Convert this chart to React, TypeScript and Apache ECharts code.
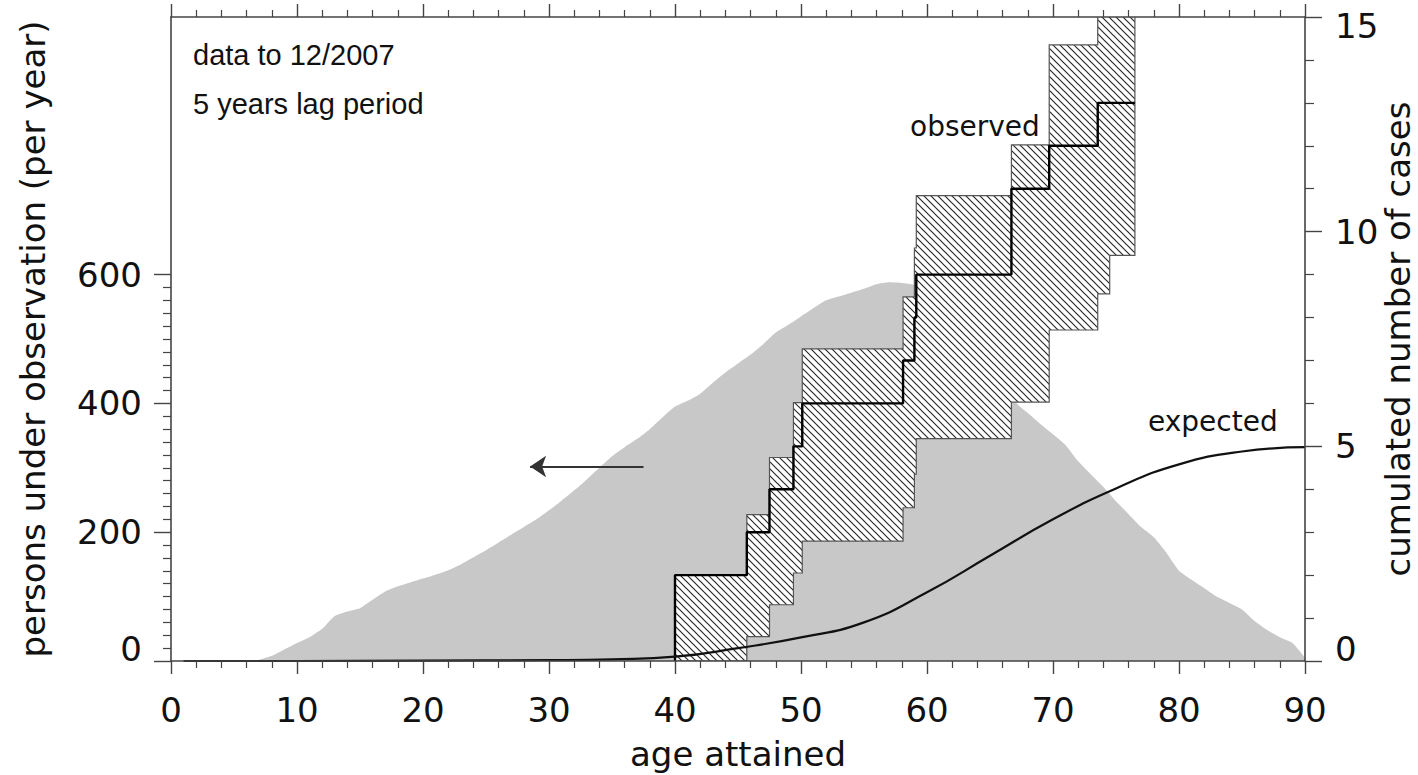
import React, { useEffect, useRef } from "react";
import * as echarts from "echarts";

// ---- data ----
const ages = [
  0, 1, 2, 3, 4, 5, 6, 7, 8, 9, 10, 11, 12, 13, 14, 15, 16, 17, 18, 19, 20,
  21, 22, 23, 24, 25, 26, 27, 28, 29, 30, 31, 32, 33, 34, 35, 36, 37, 38, 39, 40,
  41, 42, 43, 44, 45, 46, 47, 48, 49, 50, 51, 52, 53, 54, 55, 56, 57, 58, 59, 60,
  61, 62, 63, 64, 65, 66, 67, 68, 69, 70, 71, 72, 73, 74, 75, 76, 77, 78, 79, 80,
  81, 82, 83, 84, 85, 86, 87, 88, 89, 90,
];
const personsUnderObservation = [
  0, 0, 0, 0, 0, 0, 0, 2, 8, 18, 28,
  37, 50, 70, 77, 82, 95, 108, 116, 122, 128,
  134, 141, 150, 161, 172, 184, 196, 208, 220, 234,
  249, 265, 282, 300, 318, 332, 345, 360, 378, 395,
  404, 415, 432, 448, 462, 476, 492, 510, 522, 535,
  548, 560, 566, 572, 578, 585, 588, 587, 584, 575,
  560, 540, 515, 490, 460, 430, 402, 385, 368, 352,
  335, 310, 290, 270, 248, 228, 208, 192, 168, 140,
  126, 113, 100, 90, 80, 62, 48, 37, 28, 5,
];

const expectedAges = [1, 10, 20, 30, 35, 40, 45, 50, 55, 60, 65, 70, 75, 80, 85, 90];
const expectedCases = [0, 0, 0.01, 0.02, 0.04, 0.1, 0.3, 0.55, 0.9, 1.6, 2.45, 3.3, 4.02, 4.58, 4.88, 4.98];

const stepAges = [40, 45.7, 47.5, 49.4, 50.1, 58.1, 59.0, 59.15, 66.7, 69.7, 73.55, 74.5];
const observedCases = [1, 2, 3, 4, 5, 6, 7, 8, 9, 11, 12, 13];
const upperBound = [2.0, 3.41, 4.74, 6.02, 7.27, 8.48, 9.62, 10.84, 12.02, 14.35, 15.6, 16.3];
const lowerBound = [0, 0.57, 1.31, 2.05, 2.79, 3.57, 4.35, 5.18, 6.03, 7.71, 8.55, 9.45];
const observedEnd = 76.5;

const arrowFrom = [37.5, 302];
const arrowTo = [28.5, 302];

const annotations = ["data to 12/2007", "5 years lag period"];

// ---- layout constants ----
const W = 1418;
const H = 775;
const G_LEFT = 171;
const G_RIGHT = 113;
const G_TOP = 17;
const G_BOTTOM = 114;
const LEFT_MAX = 1000;
const LEFT_TICK_MAX = 600;
const FRAME = "#444";
const FONT = "DejaVu Sans";

function makeHatch() {
  const s = 7;
  const c = document.createElement("canvas");
  c.width = s;
  c.height = s;
  const g = c.getContext("2d")!;
  g.fillStyle = "#ffffff";
  g.fillRect(0, 0, s, s);
  g.strokeStyle = "#2a2a2a";
  g.lineWidth = 1.2;
  g.beginPath();
  g.moveTo(-1, -1);
  g.lineTo(s + 1, s + 1);
  g.moveTo(-1, s - 1);
  g.lineTo(1, s + 1);
  g.moveTo(s - 1, -1);
  g.lineTo(s + 1, 1);
  g.stroke();
  return { image: c.toDataURL(), repeat: "repeat", imageWidth: s, imageHeight: s };
}

export default function App() {
  const ref = useRef<HTMLDivElement>(null);
  useEffect(() => {
    if (!ref.current) return;
    const chart = echarts.init(ref.current, undefined, { renderer: "svg" });
    const hatch = makeHatch();
    const plotH = H - G_TOP - G_BOTTOM;
    const grid1Top = H - G_BOTTOM - (plotH * LEFT_TICK_MAX) / LEFT_MAX;

    const tickLabelBase = { fontFamily: FONT, fontSize: 34, color: "#111" };
    const richShift = {
      z: { fontFamily: FONT, fontSize: 34, lineHeight: 34, color: "#111" },
      e: { fontSize: 1, lineHeight: 24 },
      f: { fontSize: 1, lineHeight: 18 },
    };
    const line = { show: true, onZero: false, lineStyle: { color: FRAME, width: 1.6 } };

    const centralData: number[][] = [[stepAges[0], 0]];
    stepAges.forEach((a, i) => centralData.push([a, observedCases[i]]));
    centralData.push([observedEnd, observedCases[observedCases.length - 1]]);

    const option: any = {
      animation: false,
      backgroundColor: "#ffffff",
      grid: [
        { left: G_LEFT, right: G_RIGHT, top: G_TOP, bottom: G_BOTTOM, containLabel: false, outerBoundsMode: "none" },
        { left: G_LEFT, right: G_RIGHT, top: grid1Top, bottom: G_BOTTOM, containLabel: false, outerBoundsMode: "none" },
      ],
      xAxis: [
        {
          type: "value", gridIndex: 0, position: "bottom", min: 0, max: 90, interval: 10, z: 10,
          axisLine: line,
          axisTick: { show: true, length: 13, lineStyle: { color: FRAME, width: 1.4 } },
          minorTick: { show: true, splitNumber: 5, length: 7, lineStyle: { color: FRAME, width: 1.2 } },
          splitLine: { show: false },
          axisLabel: { ...tickLabelBase, margin: 32 },
          name: "age attained", nameLocation: "middle", nameGap: 76,
          nameTextStyle: { fontFamily: FONT, fontSize: 34, color: "#111" },
        },
        {
          type: "value", gridIndex: 0, position: "top", min: 0, max: 90, interval: 10, z: 10,
          axisLine: line,
          axisTick: { show: true, length: 13, lineStyle: { color: FRAME, width: 1.4 } },
          minorTick: { show: true, splitNumber: 5, length: 7, lineStyle: { color: FRAME, width: 1.2 } },
          splitLine: { show: false },
          axisLabel: { show: false },
        },
        { type: "value", gridIndex: 1, min: 0, max: 90, show: false },
      ],
      yAxis: [
        {
          type: "value", gridIndex: 0, position: "left", min: 0, max: LEFT_MAX, z: 10,
          axisLine: line,
          axisTick: { show: false }, axisLabel: { show: false }, splitLine: { show: false },
          name: "persons under observation (per year)", nameLocation: "middle", nameGap: 121,
          nameTextStyle: { fontFamily: FONT, fontSize: 34, color: "#111" },
        },
        {
          type: "value", gridIndex: 0, position: "right", min: 0, max: 15, interval: 5, z: 10,
          axisLine: line,
          axisTick: { show: true, length: 17, lineStyle: { color: FRAME, width: 1.4 } },
          minorTick: { show: true, splitNumber: 5, length: 9, lineStyle: { color: FRAME, width: 1.2 } },
          splitLine: { show: false },
          axisLabel: {
            ...tickLabelBase, margin: 30,
            formatter: (v: number) => (v === 0 ? "{z|0}\n{e| }" : v === 15 ? "{f| }\n{z|15}" : "{z|" + v + "}"),
            rich: richShift,
          },
          name: "cumulated number of cases", nameLocation: "middle", nameGap: 76, nameMoveOverlap: false,
          nameTextStyle: { fontFamily: FONT, fontSize: 34, color: "#111" },
        },
        {
          type: "value", gridIndex: 1, position: "left", min: 0, max: LEFT_TICK_MAX, interval: 200, z: 10,
          axisLine: { show: false, onZero: false },
          axisTick: { show: true, length: 17, lineStyle: { color: FRAME, width: 1.4 } },
          minorTick: { show: true, splitNumber: 10, length: 8, lineStyle: { color: FRAME, width: 1.2 } },
          splitLine: { show: false },
          axisLabel: {
            ...tickLabelBase, margin: 29,
            formatter: (v: number) => (v === 0 ? "{z|0}\n{e| }" : "{z|" + v + "}"),
            rich: richShift,
          },
        },
      ],
      series: [
        {
          type: "line", name: "persons", xAxisIndex: 0, yAxisIndex: 0, z: 1,
          data: ages.map((a, i) => [a, personsUnderObservation[i]]),
          symbol: "none", smooth: 0.2,
          lineStyle: { width: 0, color: "#c8c8c8" },
          areaStyle: { color: "#c8c8c8", opacity: 1 },
          markLine: {
            silent: true, symbol: ["none", "arrow"], symbolSize: 16,
            lineStyle: { color: "#333", width: 2, type: "solid" },
            label: { show: false },
            emphasis: { disabled: true },
            data: [[{ coord: arrowFrom }, { coord: arrowTo }]],
          },
        },
        {
          type: "custom", name: "band", xAxisIndex: 0, yAxisIndex: 1, z: 2, clip: true,
          data: [[stepAges[0], lowerBound[0]]],
          encode: { x: 0, y: 1 },
          renderItem: (params: any, api: any) => {
            const n = stepAges.length;
            const pts: number[][] = [];
            for (let i = 0; i < n; i++) {
              const x1 = i < n - 1 ? stepAges[i + 1] : observedEnd;
              pts.push(api.coord([stepAges[i], upperBound[i]]));
              pts.push(api.coord([x1, upperBound[i]]));
            }
            for (let i = n - 1; i >= 0; i--) {
              const x1 = i < n - 1 ? stepAges[i + 1] : observedEnd;
              pts.push(api.coord([x1, lowerBound[i]]));
              pts.push(api.coord([stepAges[i], lowerBound[i]]));
            }
            return {
              type: "polygon",
              shape: { points: pts },
              style: { fill: hatch, stroke: "#555", lineWidth: 1.2 },
            };
          },
        },
        {
          type: "line", name: "observed", xAxisIndex: 0, yAxisIndex: 1, z: 3,
          data: centralData, step: "start", symbol: "none",
          lineStyle: { color: "#000", width: 2.4 },
        },
        {
          type: "line", name: "expected", xAxisIndex: 0, yAxisIndex: 1, z: 4,
          data: expectedAges.map((a, i) => [a, expectedCases[i]]),
          symbol: "none", smooth: 0.5,
          lineStyle: { color: "#111", width: 2.2 },
        },
      ],
      graphic: [
        { type: "text", left: 193, top: 40, style: { text: annotations[0], fontFamily: "Liberation Sans", fontSize: 29, fill: "#111" } },
        { type: "text", left: 193, top: 89, style: { text: annotations[1], fontFamily: "Liberation Sans", fontSize: 29, fill: "#111" } },
        { type: "text", left: 910, top: 112, style: { text: "observed", fontFamily: FONT, fontSize: 28, fill: "#111" } },
        { type: "text", left: 1148, top: 407, style: { text: "expected", fontFamily: FONT, fontSize: 28, fill: "#111" } },
      ],
    };
    chart.setOption(option);
    return () => chart.dispose();
  }, []);
  return <div ref={ref} style={{ position: "absolute", left: 0, top: 0, width: W, height: H }} />;
}
